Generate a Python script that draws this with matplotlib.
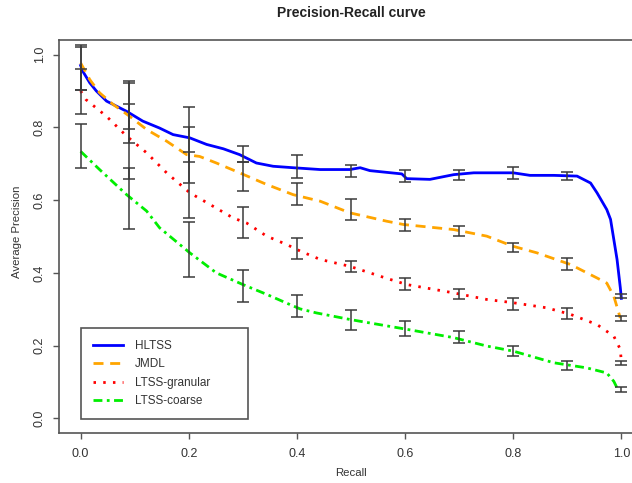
import matplotlib
matplotlib.use("Agg")
import matplotlib.pyplot as plt
import numpy as np

plt.rcParams['font.family'] = ['Liberation Sans', 'DejaVu Sans']

# ---- data ----
labels = ["HLTSS", "JMDL", "LTSS-granular", "LTSS-coarse"]

hltss_recall = [0, 0.004, 0.017, 0.029, 0.048, 0.085, 0.115, 0.146, 0.171, 0.202, 0.233, 0.264,
                0.294, 0.325, 0.356, 0.393, 0.443, 0.498, 0.517, 0.535, 0.594, 0.603, 0.646,
                0.69, 0.727, 0.80, 0.831, 0.875, 0.918, 0.943, 0.955, 0.973, 0.98, 0.986,
                0.992, 0.998, 1.0]
hltss_prec = [0.97, 0.954, 0.922, 0.90, 0.872, 0.844, 0.817, 0.798, 0.78, 0.771, 0.753, 0.741,
              0.725, 0.702, 0.693, 0.689, 0.684, 0.684, 0.689, 0.681, 0.672, 0.659, 0.657,
              0.670, 0.675, 0.675, 0.668, 0.668, 0.666, 0.647, 0.62, 0.574, 0.547, 0.492,
              0.437, 0.36, 0.33]

jmdl_recall = [0, 0.017, 0.035, 0.06, 0.091, 0.122, 0.159, 0.196, 0.22, 0.251, 0.294, 0.344,
               0.393, 0.443, 0.498, 0.566, 0.597, 0.69, 0.751, 0.80, 0.844, 0.906, 0.955,
               0.973, 0.986, 0.998]
jmdl_prec = [0.977, 0.931, 0.895, 0.863, 0.83, 0.794, 0.762, 0.725, 0.72, 0.702, 0.675, 0.643,
             0.615, 0.597, 0.565, 0.542, 0.533, 0.519, 0.501, 0.473, 0.455, 0.423, 0.386,
             0.372, 0.336, 0.276]

gran_recall = [0, 0.01, 0.048, 0.085, 0.122, 0.159, 0.202, 0.245, 0.282, 0.307, 0.344, 0.381,
               0.406, 0.443, 0.498, 0.566, 0.603, 0.69, 0.751, 0.80, 0.862, 0.906, 0.955,
               0.986, 0.998, 1.0]
gran_prec = [0.90, 0.876, 0.83, 0.776, 0.73, 0.675, 0.62, 0.583, 0.551, 0.537, 0.501, 0.478,
             0.46, 0.437, 0.418, 0.385, 0.368, 0.345, 0.327, 0.318, 0.304, 0.286, 0.258,
             0.226, 0.19, 0.155]

coarse_recall = [0, 0.035, 0.085, 0.122, 0.146, 0.202, 0.251, 0.30, 0.344, 0.387, 0.406, 0.436,
                 0.498, 0.517, 0.603, 0.69, 0.751, 0.80, 0.875, 0.936, 0.973, 0.986, 0.992]
coarse_prec = [0.734, 0.684, 0.615, 0.57, 0.524, 0.455, 0.40, 0.368, 0.341, 0.313, 0.301, 0.29,
               0.272, 0.267, 0.245, 0.222, 0.199, 0.185, 0.153, 0.139, 0.125, 0.102, 0.084]

err_recall = [0, 0.09, 0.2, 0.3, 0.4, 0.5, 0.6, 0.7, 0.8, 0.9, 1.0]
hltss_lo = [0.902, 0.757, 0.705, 0.704, 0.662, 0.664, 0.65, 0.654, 0.659, 0.655, 0.331]
hltss_hi = [1.021, 0.922, 0.855, 0.75, 0.723, 0.696, 0.682, 0.682, 0.691, 0.678, 0.342]
jmdl_lo = [0.902, 0.796, 0.647, 0.625, 0.586, 0.545, 0.516, 0.501, 0.458, 0.407, 0.269]
jmdl_hi = [1.027, 0.865, 0.801, 0.704, 0.646, 0.602, 0.548, 0.53, 0.483, 0.44, 0.281]
gran_lo = [0.838, 0.659, 0.551, 0.495, 0.439, 0.402, 0.352, 0.327, 0.299, 0.272, 0.148]
gran_hi = [0.959, 0.927, 0.733, 0.582, 0.496, 0.432, 0.386, 0.356, 0.331, 0.304, 0.159]
coarse_lo = [0.687, 0.521, 0.388, 0.32, 0.278, 0.242, 0.226, 0.208, 0.171, 0.133, 0.073]
coarse_hi = [0.81, 0.689, 0.539, 0.409, 0.338, 0.297, 0.269, 0.24, 0.199, 0.159, 0.086]

ticks = [0.0, 0.2, 0.4, 0.6, 0.8, 1.0]
tick_labels = ["0.0", "0.2", "0.4", "0.6", "0.8", "1.0"]

# ---- figure ----
W, H = 632, 483
fig = plt.figure(figsize=(W / 100, H / 100), dpi=100)
ax = fig.add_axes([59 / W, 50 / H, 584 / W, 393 / H])
ax.set_xlim(-0.04, 1.04)
ax.set_ylim(-0.04, 1.04)

axcol = '#555555'
lw = 2.0
l1, = ax.plot(hltss_recall, hltss_prec, color='#0000FF', lw=lw, solid_joinstyle='round', zorder=3)
l2, = ax.plot(jmdl_recall, jmdl_prec, color='#FFA500', lw=lw, dashes=(3.6, 2.4), zorder=3)
l3, = ax.plot(gran_recall, gran_prec, color='#FF0000', lw=lw, dashes=(0.9, 2.6), zorder=3)
l4, = ax.plot(coarse_recall, coarse_prec, color='#00EE00', lw=lw,
              dashes=(3.2, 1.6, 1.0, 1.6), zorder=3)

er = np.array(err_recall)
for lo, hi in [(hltss_lo, hltss_hi), (jmdl_lo, jmdl_hi), (gran_lo, gran_hi), (coarse_lo, coarse_hi)]:
    lo = np.array(lo); hi = np.array(hi)
    ax.errorbar(er, (lo + hi) / 2, yerr=(hi - lo) / 2, fmt='none', ecolor='#3a3a3a',
                elinewidth=1.1, capsize=4.4, capthick=1.1, zorder=4)

ax.set_xticks(ticks)
ax.set_xticklabels(tick_labels)
ax.set_yticks(ticks)
ax.set_yticklabels(tick_labels, rotation=90, va='center')
ax.tick_params(direction='out', length=4.5, width=1, color=axcol, labelsize=9,
               labelcolor='#333333', pad=6)
ax.tick_params(axis='y', pad=5)
for s in ax.spines.values():
    s.set_color(axcol)
    s.set_linewidth(1.2)

ax.set_xlabel("Recall", fontsize=8.2, color='#333333', va='center', ha='center')
ax.set_ylabel("Average Precision", fontsize=8.2, color='#333333', va='center', ha='center')
ax.xaxis.set_label_coords((351 - 59) / 584, (433 - 473) / 393)
ax.yaxis.set_label_coords((17.5 - 59) / 584, (433 - 232) / 393)
fig.text(351 / W, 1 - 13 / H, "Precision-Recall curve", ha='center', va='center',
         fontsize=10, fontweight='bold', color='#222222')

leg = ax.legend([l1, l2, l3, l4], labels, loc='upper left', mode='expand',
                bbox_to_anchor=(81 / W, 1 - 417 / H, 167 / W, 89 / H),
                bbox_transform=fig.transFigure, fontsize=8.5, frameon=True,
                fancybox=False, edgecolor=axcol, framealpha=1, borderpad=1.0,
                handlelength=2.55, handletextpad=1.0, labelspacing=0.55, borderaxespad=0)
leg.get_frame().set_linewidth(1.2)
for t in leg.get_texts():
    t.set_color('#333333')

fig.savefig("out.png", dpi=100)
